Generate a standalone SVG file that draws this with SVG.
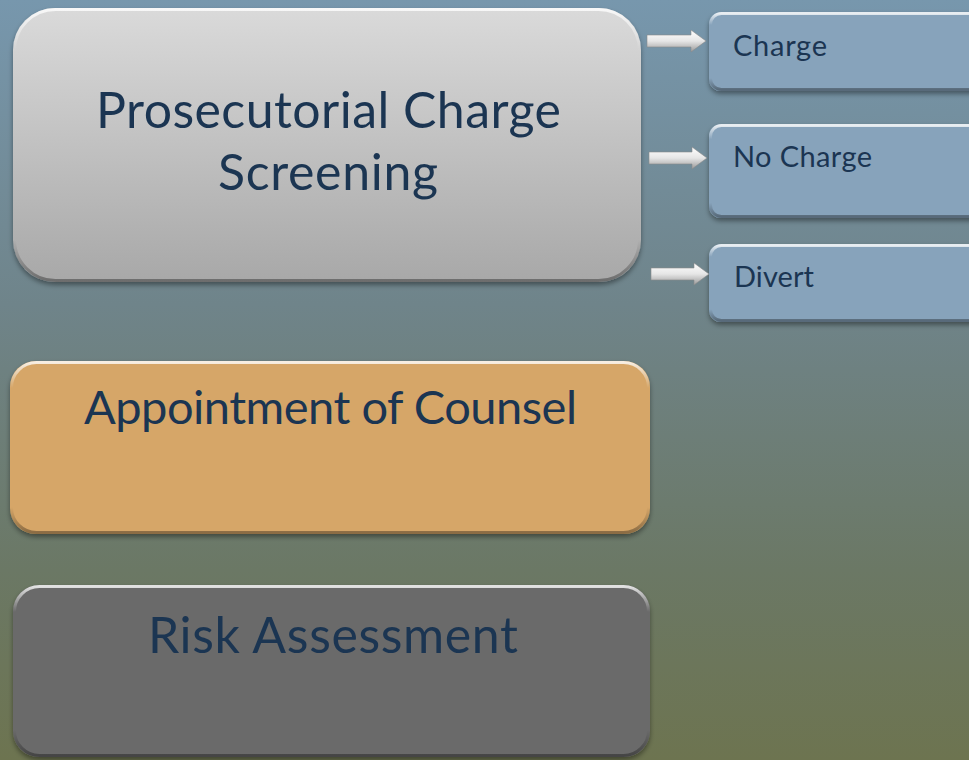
<svg xmlns="http://www.w3.org/2000/svg" width="969" height="760" viewBox="0 0 969 760">
<defs>
<linearGradient id="bg" x1="0" y1="0" x2="0" y2="1">
<stop offset="0" stop-color="#7797ad"/>
<stop offset="0.4" stop-color="#6f848a"/>
<stop offset="0.75" stop-color="#6b7865"/>
<stop offset="1" stop-color="#6d7450"/>
</linearGradient>
<linearGradient id="gray" x1="0" y1="0" x2="0" y2="1">
<stop offset="0" stop-color="#dadada"/>
<stop offset="1" stop-color="#a8a8a8"/>
</linearGradient>
<linearGradient id="bevel" x1="0" y1="0" x2="0" y2="1">
<stop offset="0" stop-color="#ffffff" stop-opacity="0.8"/>
<stop offset="0.15" stop-color="#ffffff" stop-opacity="0"/>
<stop offset="0.85" stop-color="#000000" stop-opacity="0"/>
<stop offset="1" stop-color="#000000" stop-opacity="0.35"/>
</linearGradient>
<linearGradient id="arrowg" x1="0" y1="0" x2="0" y2="1">
<stop offset="0" stop-color="#ffffff"/>
<stop offset="0.5" stop-color="#e6e6e6"/>
<stop offset="1" stop-color="#9a9a9a"/>
</linearGradient>
<filter id="sh" x="-10%" y="-10%" width="120%" height="130%">
<feDropShadow dx="0" dy="3" stdDeviation="2.5" flood-color="#000" flood-opacity="0.4"/>
</filter>
<style>
.t{font-family:Lato,"Open Sans","Liberation Sans",sans-serif;fill:#1b3552}
.big{font-size:50px}
.mid{font-size:47px}
.sm{font-size:29px}
.bev{fill:none;stroke:url(#bevel);stroke-width:3}
</style>
</defs>
<rect width="969" height="760" fill="url(#bg)"/>
<g id="screening">
<rect x="13" y="8" width="628" height="274" rx="42" fill="url(#gray)" filter="url(#sh)"/>
<rect x="14.5" y="9.5" width="625" height="271" rx="41" class="bev"/>
<text class="t big" x="96" y="128" textLength="465">Prosecutorial Charge</text>
<text class="t big" x="218" y="190" textLength="220">Screening</text>
</g>
<g id="counsel">
<rect x="10" y="361" width="640" height="173" rx="26" fill="#d6a667" filter="url(#sh)"/>
<rect x="11.5" y="362.5" width="637" height="170" rx="25" class="bev"/>
<text class="t mid" x="84" y="424" textLength="493">Appointment of Counsel</text>
</g>
<g id="risk">
<rect x="13" y="585" width="637" height="172" rx="26" fill="#6b6b6b" filter="url(#sh)"/>
<rect x="14.5" y="586.5" width="634" height="169" rx="25" class="bev"/>
<text class="t big" x="148" y="653" textLength="370">Risk Assessment</text>
</g>
<g id="charge">
<rect x="709" y="12" width="280" height="79" rx="12" fill="#87a3bb" filter="url(#sh)"/>
<rect x="710.5" y="13.5" width="277" height="76" rx="11" class="bev"/>
<text class="t sm" x="733" y="56" textLength="94">Charge</text>
</g>
<g id="nocharge">
<rect x="709" y="124" width="280" height="94" rx="12" fill="#87a3bb" filter="url(#sh)"/>
<rect x="710.5" y="125.5" width="277" height="91" rx="11" class="bev"/>
<text class="t sm" x="733" y="167" textLength="139">No Charge</text>
</g>
<g id="divert">
<rect x="709" y="244" width="280" height="78" rx="12" fill="#87a3bb" filter="url(#sh)"/>
<rect x="710.5" y="245.5" width="277" height="75" rx="11" class="bev"/>
<text class="t sm" x="734" y="287" textLength="80">Divert</text>
</g>
<g id="connectors" fill="url(#arrowg)" stroke="#8a8a8a" stroke-width="0.6">
<path d="M647 35 H691 V30 L706 41 L691 52 V47 H647 Z"/>
<path d="M649 152 H692 V147 L707 158 L692 169 V164 H649 Z"/>
<path d="M651 268 H694 V263 L709 274 L694 285 V280 H651 Z"/>
</g>
</svg>
